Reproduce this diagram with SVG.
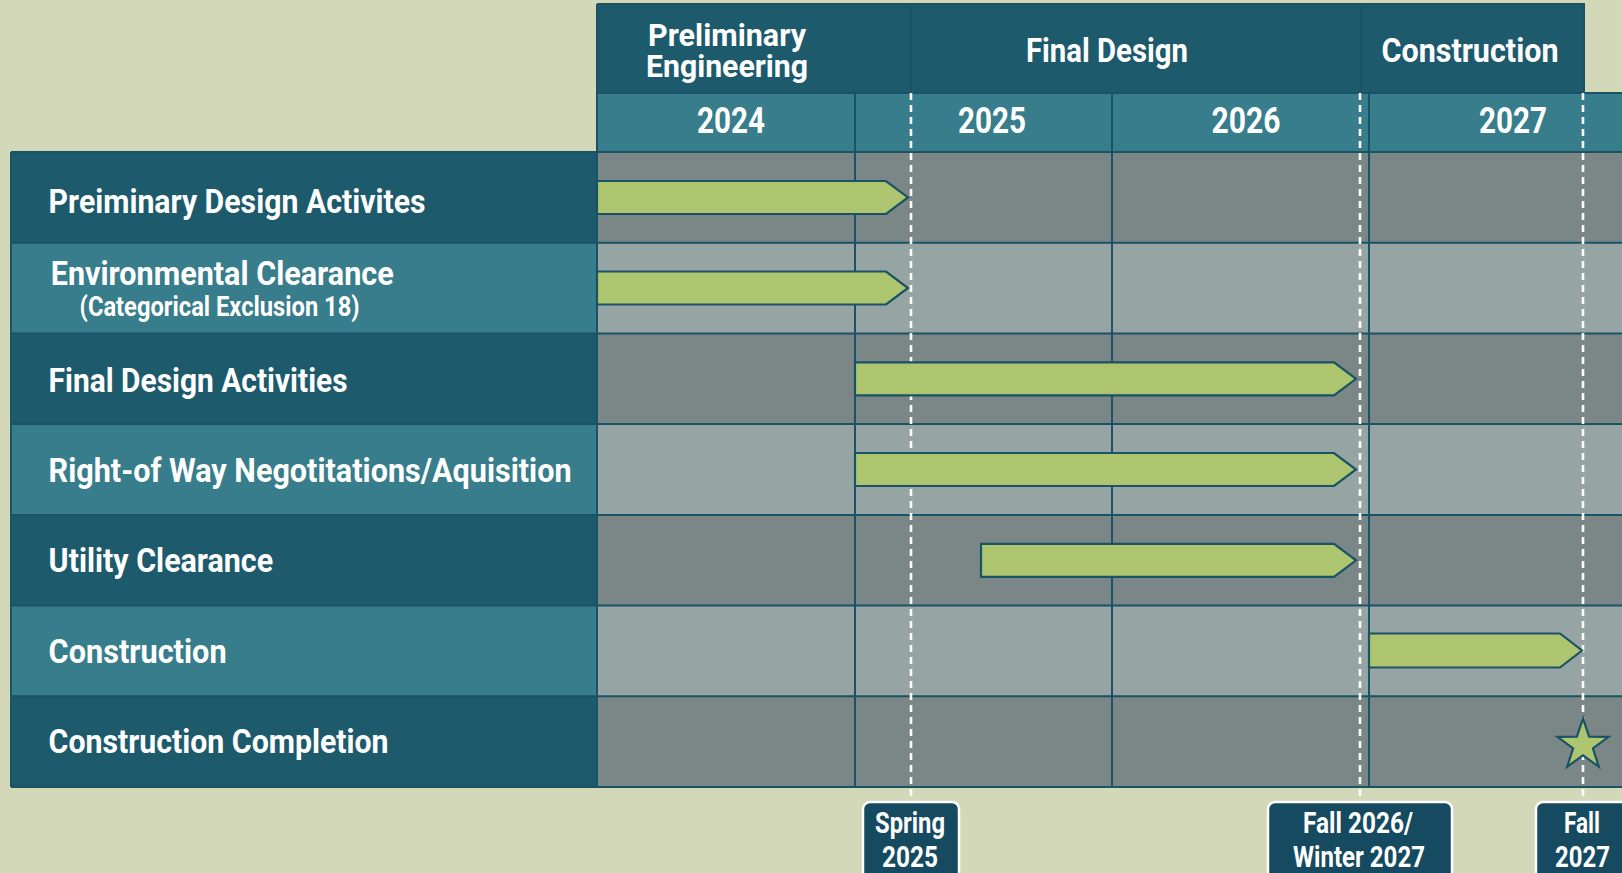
<svg xmlns="http://www.w3.org/2000/svg" width="1622" height="873" viewBox="0 0 1622 873">
<style>
text{font-family:"Liberation Sans Narrow","Roboto","Liberation Sans",sans-serif;font-weight:700;fill:#ffffff}
.lbl{font-size:33px}
.sub{font-size:27px}
.hdr{font-size:33px;text-anchor:middle}
.hdr2{font-size:31px;text-anchor:middle}
.yr{font-size:36px;text-anchor:middle}
.ms{font-size:29px;text-anchor:middle}
.dk{fill:#1d5a6c}
.lt{fill:#377d8b}
.gd{fill:#7b8786}
.gl{fill:#96a5a4}
.ln{stroke:#1a5266;stroke-width:2;fill:none}
.bar{fill:#adc56e;stroke:#1a5266;stroke-width:2.2;stroke-linejoin:miter}
.dash{stroke:#ffffff;stroke-width:2.6;stroke-dasharray:7 5;fill:none}
.box{fill:#154a60;stroke:#ffffff;stroke-width:2.5}
</style>
<rect width="1622" height="873" fill="#d3d9b8"/>

<g id="header">
  <rect class="dk" x="597" y="4" width="987" height="89"/>
  <rect class="lt" x="597" y="93" width="1030" height="59"/>
  <path class="ln" d="M597 4H1584V93M597 4V152M911 4V93M1361 4V93M597 93H1622M855 93V152M1112 93V152M1369 93V152"/>
  <text class="hdr2" x="727" y="46" textLength="158" lengthAdjust="spacingAndGlyphs">Preliminary</text>
  <text class="hdr2" x="727" y="77" textLength="162" lengthAdjust="spacingAndGlyphs">Engineering</text>
  <text class="hdr" x="1107" y="62" textLength="162" lengthAdjust="spacingAndGlyphs">Final Design</text>
  <text class="hdr" x="1470" y="62" textLength="177" lengthAdjust="spacingAndGlyphs">Construction</text>
  <text class="yr" x="731" y="133" textLength="68" lengthAdjust="spacingAndGlyphs">2024</text>
  <text class="yr" x="992" y="133" textLength="68" lengthAdjust="spacingAndGlyphs">2025</text>
  <text class="yr" x="1246" y="133" textLength="69" lengthAdjust="spacingAndGlyphs">2026</text>
  <text class="yr" x="1513" y="133" textLength="68" lengthAdjust="spacingAndGlyphs">2027</text>
</g>

<g id="grid">
  <rect class="dk" x="11" y="152" width="586" height="90.7"/>
  <rect class="lt" x="11" y="242.7" width="586" height="90.7"/>
  <rect class="dk" x="11" y="333.4" width="586" height="90.7"/>
  <rect class="lt" x="11" y="424.1" width="586" height="90.8"/>
  <rect class="dk" x="11" y="514.9" width="586" height="90.7"/>
  <rect class="lt" x="11" y="605.6" width="586" height="90.7"/>
  <rect class="dk" x="11" y="696.3" width="586" height="90.7"/>
  <rect class="gd" x="597" y="152" width="1030" height="90.7"/>
  <rect class="gl" x="597" y="242.7" width="1030" height="90.7"/>
  <rect class="gd" x="597" y="333.4" width="1030" height="90.7"/>
  <rect class="gl" x="597" y="424.1" width="1030" height="90.8"/>
  <rect class="gd" x="597" y="514.9" width="1030" height="90.7"/>
  <rect class="gl" x="597" y="605.6" width="1030" height="90.7"/>
  <rect class="gd" x="597" y="696.3" width="1030" height="90.7"/>
  <path class="ln" d="M11 152H1622M11 242.7H1622M11 333.4H1622M11 424.1H1622M11 514.9H1622M11 605.6H1622M11 696.3H1622M11 787H1622M11 152V787M597 152V787M855 152V787M1112 152V787M1369 152V787"/>
</g>

<g id="row1"><text class="lbl" x="48.6" y="213" textLength="377" lengthAdjust="spacingAndGlyphs">Preiminary Design Activites</text></g>
<g id="row2"><text class="lbl" x="50.7" y="285" textLength="343" lengthAdjust="spacingAndGlyphs">Environmental Clearance</text><text class="sub" x="79.6" y="316" textLength="280" lengthAdjust="spacingAndGlyphs">(Categorical Exclusion 18)</text></g>
<g id="row3"><text class="lbl" x="48.6" y="392" textLength="299" lengthAdjust="spacingAndGlyphs">Final Design Activities</text></g>
<g id="row4"><text class="lbl" x="48.6" y="482" textLength="523" lengthAdjust="spacingAndGlyphs">Right-of Way Negotitations/Aquisition</text></g>
<g id="row5"><text class="lbl" x="48.6" y="572" textLength="224.5" lengthAdjust="spacingAndGlyphs">Utility Clearance</text></g>
<g id="row6"><text class="lbl" x="48.6" y="662.5" textLength="178" lengthAdjust="spacingAndGlyphs">Construction</text></g>
<g id="row7"><text class="lbl" x="48.6" y="753" textLength="340" lengthAdjust="spacingAndGlyphs">Construction Completion</text></g>

<g id="connectors">
  <path class="dash" d="M911 93V802M1360 93V802M1583 93V802"/>
</g>

<g id="bar1"><path class="bar" d="M597 181H886L908 197.4L886 214H597Z"/></g>
<g id="bar2"><path class="bar" d="M597 271.5H886L908 288L886 304.5H597Z"/></g>
<g id="bar3"><path class="bar" d="M855 362.3H1334L1356 378.8L1334 395.3H855Z"/></g>
<g id="bar4"><path class="bar" d="M855 453H1334L1356 469.5L1334 486H855Z"/></g>
<g id="bar5"><path class="bar" d="M981 543.8H1334L1356 560.3L1334 576.8H981Z"/></g>
<g id="bar6"><path class="bar" d="M1369 633.5H1560L1582 650.5L1560 667.5H1369Z"/></g>
<g id="star"><path class="bar" d="M1583 718.3L1589.1 736.7L1608.5 736.8L1592.9 748.3L1598.8 766.7L1583 755.4L1567.2 766.7L1573.1 748.3L1557.5 736.8L1576.9 736.7Z"/></g>

<g id="m-spring2025">
  <rect class="box" x="863" y="802" width="96" height="90" rx="7"/>
  <text class="ms" x="910" y="833" textLength="70" lengthAdjust="spacingAndGlyphs">Spring</text>
  <text class="ms" x="910" y="867" textLength="56" lengthAdjust="spacingAndGlyphs">2025</text>
</g>
<g id="m-fall2026">
  <rect class="box" x="1268" y="802" width="184" height="90" rx="7"/>
  <text class="ms" x="1358" y="833" textLength="110" lengthAdjust="spacingAndGlyphs">Fall 2026/</text>
  <text class="ms" x="1359" y="867" textLength="132" lengthAdjust="spacingAndGlyphs">Winter 2027</text>
</g>
<g id="m-fall2027">
  <rect class="box" x="1536" y="802" width="110" height="90" rx="7"/>
  <text class="ms" x="1582" y="833" textLength="36" lengthAdjust="spacingAndGlyphs">Fall</text>
  <text class="ms" x="1582.5" y="867" textLength="55" lengthAdjust="spacingAndGlyphs">2027</text>
</g>
</svg>
